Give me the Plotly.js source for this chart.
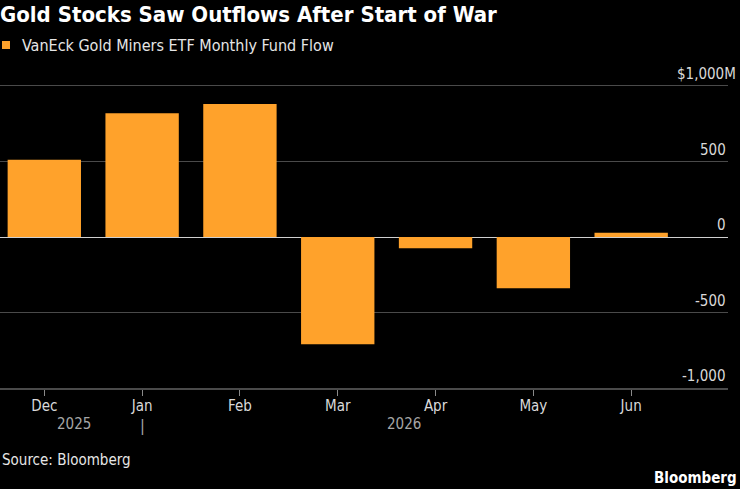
<!DOCTYPE html>
<html>
<head>
<meta charset="utf-8">
<script src="https://cdn.plot.ly/plotly-3.0.1.min.js"></script>
<style>
html,body{margin:0;padding:0;background:#000;}
#chart{width:740px;height:489px;}
</style>
</head>
<body>
<div id="chart"></div>
<script>
const months = ["Dec", "Jan", "Feb", "Mar", "Apr", "May", "Jun"];
const flows = [512, 819, 881, -711, -75, -340, 28];
const yTickVals = [-1000, -500, 0, 500, 1000];
const yTickText = ["-1,000", "-500", "0", "500", "$1,000M"];
const seriesName = "VanEck Gold Miners ETF Monthly Fund Flow";
const yearLabels = ["2025", "2026"];

const FONT = "DejaVu Sans Condensed, DejaVu Sans, sans-serif";
const ORANGE = "#FFA22B";
const GRID = "#4a4a4a";

const trace = {
  type: "bar",
  x: months,
  y: flows,
  name: seriesName,
  width: 0.75,
  marker: {color: ORANGE, line: {width: 0}},
  hoverinfo: "x+y",
  showlegend: false
};

const yLabelAnns = yTickVals.map((v, i) => ({
  text: yTickText[i], xref: "paper", yref: "y", x: 1, y: v,
  xanchor: "right", yanchor: "middle", yshift: 12,
  xshift: (i === yTickVals.length - 1) ? 10 : 0,
  showarrow: false,
  font: {family: FONT, size: 15, color: "#d9d9d9"}
}));

const layout = {
  width: 740,
  height: 489,
  paper_bgcolor: "#000",
  plot_bgcolor: "#000",
  margin: {l: 0, r: 12, t: 86, b: 101, pad: 0},
  font: {family: FONT, color: "#d9d9d9", size: 15},
  title: {
    text: "<b>Gold Stocks Saw Outflows After Start of War</b>",
    font: {family: FONT, size: 22, color: "#ffffff"},
    x: 0, xref: "paper", xanchor: "left",
    y: 1 - 14/489, yref: "container", yanchor: "middle"
  },
  xaxis: {
    type: "category",
    range: [-0.453, 6.99],
    showgrid: false,
    zeroline: false,
    showline: true,
    mirror: true,
    linecolor: GRID,
    linewidth: 1.5,
    ticks: "outside",
    ticklen: 6,
    tickwidth: 1,
    tickcolor: "#8a8a8a",
    ticklabelstandoff: -3,
    tickfont: {family: FONT, size: 15, color: "#d9d9d9"},
    fixedrange: true
  },
  yaxis: {
    range: [-1000, 1000],
    side: "right",
    tickvals: yTickVals,
    showticklabels: false,
    ticks: "",
    showgrid: true,
    gridcolor: GRID,
    gridwidth: 1.5,
    zeroline: true,
    zerolinecolor: "#d0d0d0",
    zerolinewidth: 1,
    showline: false,
    fixedrange: true
  },
  shapes: [
    {type: "rect", xref: "paper", yref: "paper",
     x0: 2/728, x1: 10/728, y0: (388-49)/302, y1: (388-41)/302,
     fillcolor: ORANGE, line: {width: 0}}
  ],
  annotations: yLabelAnns.concat([
    {text: seriesName, xref: "paper", yref: "paper", x: 20/728, y: (388-45)/302,
     xanchor: "left", yanchor: "middle", showarrow: false,
     font: {family: FONT, size: 16, color: "#e6e6e6"}},
    {text: yearLabels[0], xref: "paper", yref: "paper", x: 74/728, y: (388-424)/302,
     xanchor: "center", yanchor: "middle", showarrow: false,
     font: {family: FONT, size: 15, color: "#a6a6a6"}},
    {text: yearLabels[1], xref: "paper", yref: "paper", x: 404/728, y: (388-424)/302,
     xanchor: "center", yanchor: "middle", showarrow: false,
     font: {family: FONT, size: 15, color: "#a6a6a6"}},
    {text: "|", xref: "x", yref: "paper", x: "Jan", y: (388-425)/302,
     xanchor: "center", yanchor: "middle", showarrow: false,
     font: {family: FONT, size: 16, color: "#a6a6a6"}},
    {text: "Source: Bloomberg", xref: "paper", yref: "paper", x: 0, y: (388-460)/302,
     xanchor: "left", yanchor: "middle", showarrow: false,
     font: {family: FONT, size: 15, color: "#e6e6e6"}},
    {text: "<b>Bloomberg</b>", xref: "paper", yref: "paper", x: 739/728, y: (388-478)/302,
     xanchor: "right", yanchor: "middle", showarrow: false,
     font: {family: FONT, size: 15, color: "#ffffff"}}
  ]),
  bargap: 0.25
};

Plotly.newPlot("chart", [trace], layout, {displayModeBar: false, staticPlot: true});
</script>
</body>
</html>
